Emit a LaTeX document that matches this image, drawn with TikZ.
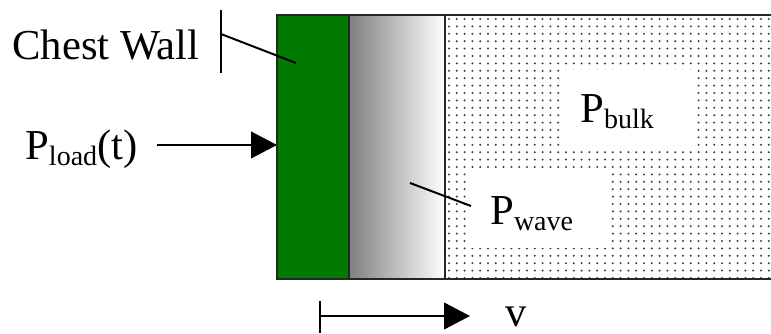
\documentclass[tikz,border=0pt]{standalone}
\usepackage{fontspec}
\setmainfont{Liberation Serif}
\usetikzlibrary{arrows.meta,positioning}
\definecolor{wallgreen}{RGB}{0,122,0}
\newcommand{\lowsub}[1]{\raisebox{-4pt}{\fontsize{21}{24}\selectfont #1}}

\begin{document}
\begin{tikzpicture}[x=0.75pt,y=-0.75pt,
  lbl/.style={font=\fontsize{32}{36}\selectfont,inner sep=0pt,anchor=base west},
  lead/.style={line width=1.5pt},
  push/.style={line width=1.5pt,-{Triangle[length=19.5pt,width=20pt]}},
  gap/.style={fill=white,draw=none}]
\useasboundingbox (0,0) rectangle (771,334);
% Layers
\fill[wallgreen] (277,15) rectangle (349,279);
\shade[left color=black!50,right color=white] (349,15) rectangle (445,279);
\fill[white] (445,15) rectangle (772,279);
\foreach \i in {0,...,41}
  \foreach \j in {0,...,35}
    \fill[black!75] ({449+\i*7.8},{19+\j*7.4}) circle (0.85pt);
\fill[gap] (560,70) rectangle (694,147);
\fill[gap] (471,172) rectangle (608,248);
\draw[line width=1.5pt,black!85] (772,15) -- (277,15) -- (277,279) -- (772,279);
\draw[line width=1.5pt,black!85] (349,15) -- (349,279) (445,15) -- (445,279);

% Labels
\node[lbl] (wall) at (12,60) {Chest Wall};
\node[lbl] (load) at (25,160) {P\lowsub{load}(t)};
\node[lbl] (bulk) at (580,123) {P\lowsub{bulk}};
\node[lbl] (wave) at (490,225) {P\lowsub{wave}};
\node[lbl] (vel) at (505,327) {v};

% Leaders and arrows
\coordinate (barT) at (221,10);
\coordinate (barB) at (221,73);
\coordinate (barM) at (221,34);
\coordinate (wallpt) at (296,63);
\coordinate (wavept) at (410,183);
\coordinate (waveend) at (471,206);
\coordinate (loadend) at (157,145);
\coordinate (loadtip) at (277,145);
\coordinate (vT) at (320,301);
\coordinate (vB) at (320,333);
\coordinate (vmid) at (320,316);
\coordinate (vtip) at (470,316);
\draw[lead] (barT) -- (barB);
\draw[lead] (barM) -- (wallpt);
\draw[lead] (waveend) -- (wavept);
\draw[push] (loadend) -- (loadtip);
\draw[lead] (vT) -- (vB);
\draw[push] (vmid) -- (vtip);
\end{tikzpicture}
\end{document}
